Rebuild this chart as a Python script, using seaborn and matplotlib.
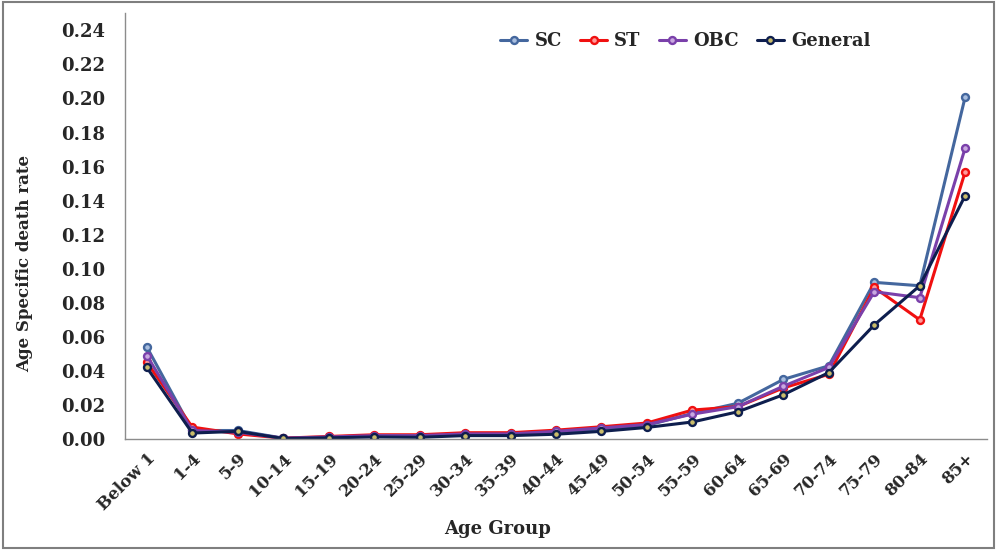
import matplotlib
matplotlib.use("Agg")
import matplotlib.pyplot as plt
import seaborn as sns
import pandas as pd
from matplotlib.patches import Rectangle

age_groups = ["Below 1", "1-4", "5-9", "10-14", "15-19", "20-24", "25-29", "30-34",
              "35-39", "40-44", "45-49", "50-54", "55-59", "60-64", "65-69", "70-74",
              "75-79", "80-84", "85+"]

sc = [0.054, 0.005, 0.005, 0.0005, 0.001, 0.0018, 0.002, 0.003, 0.003, 0.004,
      0.006, 0.008, 0.015, 0.021, 0.035, 0.043, 0.092, 0.090, 0.201]
st = [0.045, 0.007, 0.003, 0.0005, 0.0015, 0.0025, 0.0025, 0.0037, 0.0037, 0.0052,
      0.0072, 0.0094, 0.017, 0.019, 0.030, 0.038, 0.089, 0.070, 0.157]
obc = [0.049, 0.005, 0.004, 0.0005, 0.0012, 0.002, 0.002, 0.003, 0.003, 0.0045,
       0.0065, 0.0085, 0.0146, 0.019, 0.031, 0.042, 0.0865, 0.083, 0.171]
general = [0.042, 0.0035, 0.0045, 0.0003, 0.0007, 0.0012, 0.001, 0.002, 0.002, 0.0028,
           0.0045, 0.0068, 0.010, 0.016, 0.026, 0.039, 0.067, 0.090, 0.143]

series = {"SC": sc, "ST": st, "OBC": obc, "General": general}
line_colors = {"SC": "#44679E", "ST": "#F01010", "OBC": "#7A40AA", "General": "#0E1E4E"}
face_colors = {"SC": "#A9BEDF", "ST": "#FF9A9A", "OBC": "#C9A8E0", "General": "#C9BC6A"}

df = pd.DataFrame({
    "Age Group": age_groups * len(series),
    "rate": sc + st + obc + general,
    "Caste": sum([[k] * len(age_groups) for k in series], []),
})

sns.set_style("white")
plt.rcParams["font.family"] = ["DejaVu Serif"]
plt.rcParams["font.weight"] = "bold"

fig = plt.figure(figsize=(9.97, 5.5), dpi=100)
ax = fig.add_axes([0.1254, 0.2018, 0.8646, 0.774])

for name in series:
    sub = df[df["Caste"] == name]
    sns.lineplot(data=sub, x="Age Group", y="rate", ax=ax, sort=False,
                 color=line_colors[name], linewidth=2.2, marker="o", markersize=5,
                 markerfacecolor=face_colors[name], markeredgecolor=line_colors[name],
                 markeredgewidth=1.7, label=name)

ax.set_ylim(0, 0.25)
ax.set_xlim(-0.48, len(age_groups) - 0.52)
ax.set_yticks([i * 0.02 for i in range(13)])
ax.set_yticklabels([f"{i * 0.02:.2f}" for i in range(13)], fontsize=13, fontweight="bold")
ax.set_xticks(range(len(age_groups)))
ax.set_xticklabels(age_groups, rotation=45, ha="right", rotation_mode="anchor",
                   fontsize=12, fontweight="bold")
ax.tick_params(axis="x", length=0, pad=8)
ax.tick_params(axis="y", length=0, pad=14)

ax.set_xlabel("Age Group", fontsize=13, fontweight="bold")
ax.set_ylabel("Age Specific death rate", fontsize=12, fontweight="bold")
ax.xaxis.set_label_coords(0.432, -0.211)
ax.yaxis.set_label_coords(-0.116, 0.413)
ax.xaxis.label.set_verticalalignment("center")
ax.yaxis.label.set_verticalalignment("center")

for side in ["top", "right"]:
    ax.spines[side].set_visible(False)
for side in ["left", "bottom"]:
    ax.spines[side].set_color("#8C8C8C")
    ax.spines[side].set_linewidth(1.0)

leg = ax.legend(loc="center", bbox_to_anchor=(0.65, 0.934), ncol=4, frameon=False,
                handlelength=1.5, columnspacing=1.0, handletextpad=0.4,
                prop={"family": "DejaVu Serif", "weight": "bold", "size": 13})

fig.patches.append(Rectangle((0.003, 0.004), 0.994, 0.992, transform=fig.transFigure,
                             fill=False, edgecolor="#7F7F7F", linewidth=1.5))

fig.savefig("out.png", dpi=100, facecolor="white")
